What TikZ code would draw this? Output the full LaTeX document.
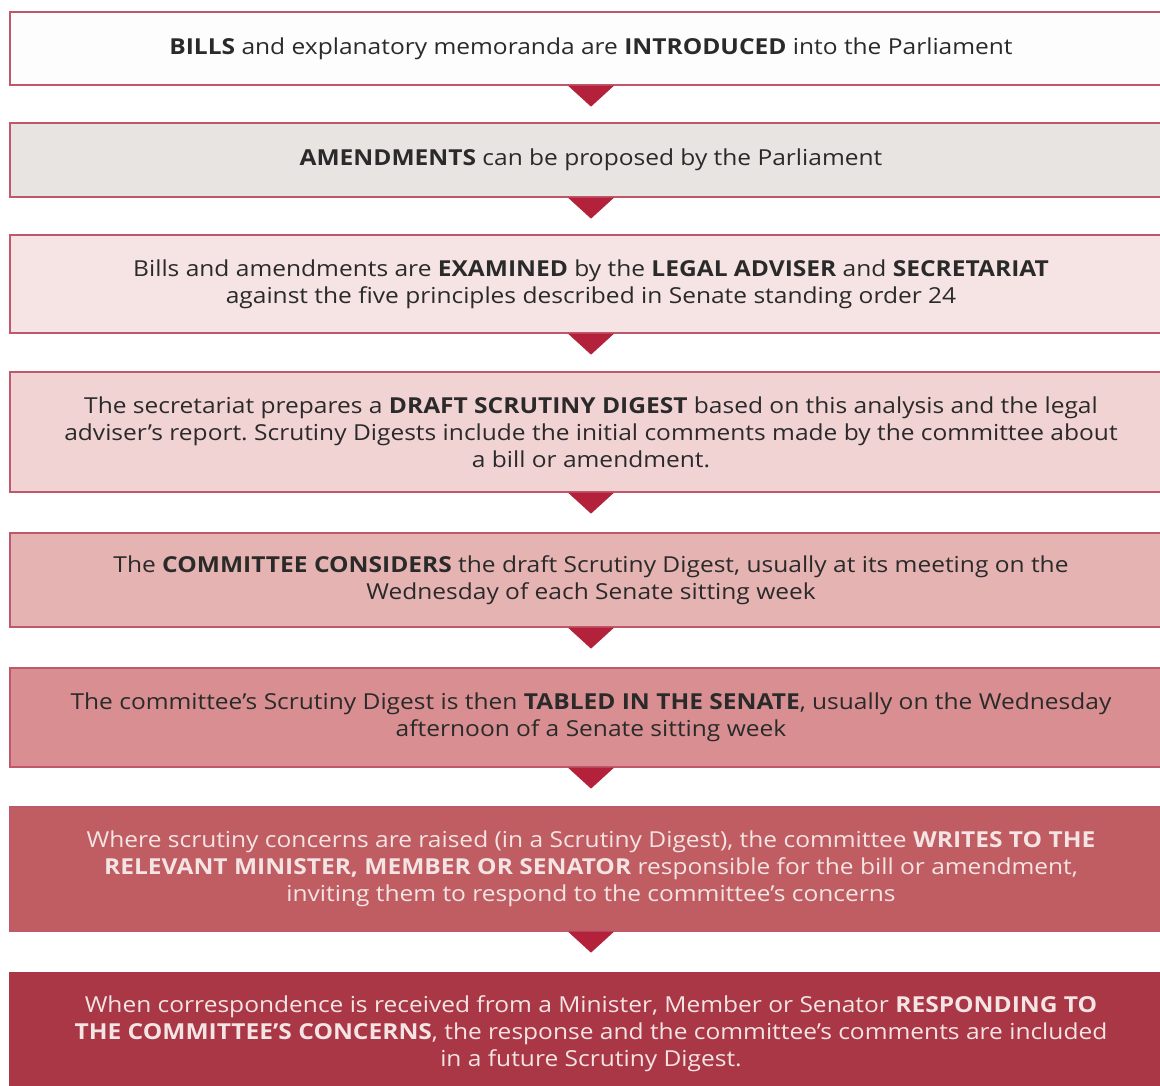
\documentclass[tikz,border=0pt]{standalone}
\usepackage{fontspec}
\setmainfont[FakeStretch=1.115]{Open Sans}
\frenchspacing
\definecolor{edge}{HTML}{C0586B}
\definecolor{ink}{HTML}{2A2A2A}
\definecolor{paleink}{HTML}{F4E4E4}
\definecolor{pointer}{HTML}{B3213B}
\definecolor{c1}{HTML}{FDFDFD}
\definecolor{c2}{HTML}{E8E4E2}
\definecolor{c3}{HTML}{F6E3E3}
\definecolor{c4}{HTML}{F2D3D3}
\definecolor{c5}{HTML}{E6B3B3}
\definecolor{c6}{HTML}{D98F92}
\definecolor{c7}{HTML}{C05D63}
\definecolor{c8}{HTML}{A93746}
\begin{document}
\begin{tikzpicture}[x=1pt,y=-1pt,
  stage/.style={draw=edge, line width=1.3pt, minimum width=1162pt, inner sep=0pt,
    align=center, text=ink, font=\fontsize{22}{26.8}\selectfont},
  pointer/.style={fill=pointer}]
\useasboundingbox (0,0) rectangle (1160,1086);
\clip (0,0) rectangle (1160,1086);
\fill[white] (0,0) rectangle (1160,1086);

\node[stage, fill=c1, minimum height=73pt] (b1) at (591,48.5)
  {\textbf{BILLS} and explanatory memoranda are \textbf{INTRODUCED} into the Parliament};
\node[stage, fill=c2, minimum height=74pt] (b2) at (591,160)
  {\textbf{AMENDMENTS} can be proposed by the Parliament};
\node[stage, fill=c3, minimum height=98pt] (b3) at (591,284)
  {Bills and amendments are \textbf{EXAMINED} by the \textbf{LEGAL ADVISER} and \textbf{SECRETARIAT}\\
   against the five principles described in Senate standing order 24};
\node[stage, fill=c4, minimum height=120pt] (b4) at (591,432)
  {The secretariat prepares a \textbf{DRAFT SCRUTINY DIGEST} based on this analysis and the legal\\
   adviser’s report. Scrutiny Digests include the initial comments made by the committee about\\
   a bill or amendment.};
\node[stage, fill=c5, minimum height=94pt] (b5) at (591,580)
  {The \textbf{COMMITTEE CONSIDERS} the draft Scrutiny Digest, usually at its meeting on the\\
   Wednesday of each Senate sitting week};
\node[stage, fill=c6, minimum height=99pt] (b6) at (591,717.5)
  {The committee’s Scrutiny Digest is then \textbf{TABLED IN THE SENATE}, usually on the Wednesday\\
   afternoon of a Senate sitting week};
\node[stage, fill=c7, minimum height=124pt, text=paleink] (b7) at (591,869)
  {Where scrutiny concerns are raised (in a Scrutiny Digest), the committee \textbf{WRITES TO THE}\\
   \textbf{RELEVANT MINISTER, MEMBER OR SENATOR} responsible for the bill or amendment,\\
   inviting them to respond to the committee’s concerns};
\node[stage, fill=c8, draw=c8, minimum height=122pt, text=paleink] (b8) at (591,1034)
  {When correspondence is received from a Minister, Member or Senator \textbf{RESPONDING TO}\\
   \textbf{THE COMMITTEE’S CONCERNS}, the response and the committee’s comments are included\\
   in a future Scrutiny Digest.};

% downward pointers hanging from each stage
\foreach \s in {b1,b2,b3,b4,b5,b6,b7}{
  \fill[pointer] ([xshift=-23pt]\s.south) -- ([xshift=23pt]\s.south)
    -- ([yshift=-21pt]\s.south) -- cycle;
}
\end{tikzpicture}
\end{document}
